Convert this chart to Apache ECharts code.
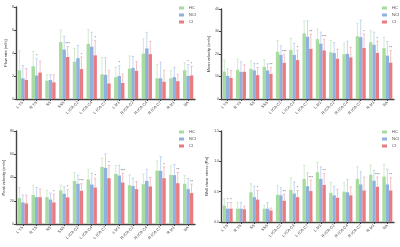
<!DOCTYPE html>
<html><head><meta charset="utf-8">
<script src="https://cdn.jsdelivr.net/npm/echarts@6/dist/echarts.min.js"></script>
<style>html,body{margin:0;padding:0;background:#fff}#c{width:400px;height:247px}</style>
</head><body><div id="c"></div>
<script>
var categories = ['L TS','R TS','SS','SSS','L ICA C2','L ICA C4','L ICA C7','L M1','R ICA C2','R ICA C4','R ICA C7','R M1','BA'];
var groups = ['HC','NCI','CI'];

// Panel 1: Flow rate
var flowHC  = [2.5,2.85,1.6,4.95,3.25,4.8,2.15,1.9,2.65,3.95,1.8,1.8,2.5];
var flowNCI = [1.8,2.05,1.65,4.3,3.55,4.55,2.1,2.0,2.7,4.4,1.8,1.9,2.0];
var flowCI  = [1.65,2.3,1.45,3.65,2.6,3.8,1.35,1.4,2.45,3.9,1.5,1.55,2.05];
var flowHCErr  = [4.2,4.15,2.1,6.0,4.4,6.05,3.6,2.75,3.75,5.25,3.0,2.45,3.15];
var flowNCIErr = [2.9,3.5,2.1,5.45,4.65,5.8,3.6,2.9,3.7,5.8,3.2,2.75,3.0];
var flowCIErr  = [2.65,3.3,2.1,4.55,3.65,5.1,2.5,2.15,3.25,5.0,2.5,2.15,2.85];
var flowNCISig = ['','*','','','','','','*','','','','','*'];
var flowCISig  = ['','','','***','*','*','','','','','','','*'];

// Panel 2: Mean velocity
var meanHC  = [12.2,13.0,13.4,14.3,21.0,21.8,29.2,26.6,20.8,19.9,27.9,25.2,22.6];
var meanNCI = [10.3,12.1,12.7,12.7,19.6,19.6,27.7,24.6,20.4,20.1,27.5,24.1,19.3];
var meanCI  = [9.4,12.1,10.6,11.1,16.1,17.3,22.3,21.6,17.9,18.5,22.7,20.5,16.2];
var meanHCErr  = [17.3,17.7,16.8,17.4,26.0,26.9,34.7,31.1,26.1,24.8,33.7,30.4,27.5];
var meanNCIErr = [13.4,16.5,15.8,15.6,23.6,24.8,34.7,29.7,25.1,25.7,35.1,29.7,25.5];
var meanCIErr  = [12.7,15.2,14.0,14.0,19.9,21.7,28.8,26.6,22.1,23.0,28.9,25.7,21.5];
var meanNCISig = ['','','','','','','','','','','','',''];
var meanCISig  = ['','','*','**','***','*','**','***','','','*','*','**'];

// Panel 3: Peak velocity
var peakHC  = [22.3,24.9,23.1,28.9,37.1,38.3,49.1,43.1,33.4,34.3,46.0,42.3,34.6];
var peakNCI = [18.6,23.1,21.1,26.0,34.6,34.0,48.3,41.7,32.6,37.1,45.7,42.0,30.0];
var peakCI  = [17.7,23.1,18.6,22.9,28.6,31.4,39.4,35.7,30.0,32.3,39.4,35.1,26.6];
var peakHCErr  = [31.4,33.4,28.9,33.4,44.3,47.1,56.6,50.3,42.3,43.1,54.3,50.0,41.7];
var peakNCIErr = [24.9,31.4,26.6,32.0,42.0,43.7,60.3,50.6,39.4,47.1,58.0,51.1,39.1];
var peakCIErr  = [24.9,30.0,25.7,29.4,34.6,39.4,50.3,43.7,36.6,40.0,49.1,44.3,34.3];
var peakNCISig = ['','','','','','','','','','','','',''];
var peakCISig  = ['','','*','*','***','*','*','***','','','*','**','**'];

// Panel 4: Wall shear stress
var wssHC  = [0.27,0.22,0.49,0.22,0.45,0.53,0.71,0.82,0.48,0.50,0.71,0.78,0.75];
var wssNCI = [0.22,0.22,0.41,0.22,0.44,0.47,0.59,0.71,0.44,0.49,0.62,0.68,0.62];
var wssCI  = [0.22,0.21,0.37,0.19,0.35,0.41,0.51,0.61,0.40,0.44,0.52,0.58,0.52];
var wssHCErr  = [0.38,0.32,0.63,0.28,0.60,0.73,0.93,0.98,0.65,0.65,0.91,0.94,0.95];
var wssNCIErr = [0.32,0.32,0.59,0.32,0.57,0.66,0.81,0.91,0.59,0.70,0.83,0.85,0.87];
var wssCIErr  = [0.32,0.26,0.52,0.23,0.46,0.52,0.69,0.80,0.54,0.58,0.74,0.74,0.73];
var wssNCISig = ['*','','','','','','','','','','','',''];
var wssCISig  = ['*','','*','','**','*','***','**','','','','***','**'];

var yNames = ['Flow rate (ml/s)','Mean velocity (cm/s)','Peak velocity (cm/s)','Wall shear stress (Pa)'];
var yMax = [8,40,80,1.5];
var yInterval = [2,10,20,0.5];

var barColors = ['#a8dba0','#8eb1de','#e97b82'];
var errColors = ['#c6e7c0','#b7cdec','#f1b1b6'];

var panels = [
  {vals:[flowHC,flowNCI,flowCI], errs:[flowHCErr,flowNCIErr,flowCIErr], sig:[[],flowNCISig,flowCISig]},
  {vals:[meanHC,meanNCI,meanCI], errs:[meanHCErr,meanNCIErr,meanCIErr], sig:[[],meanNCISig,meanCISig]},
  {vals:[peakHC,peakNCI,peakCI], errs:[peakHCErr,peakNCIErr,peakCIErr], sig:[[],peakNCISig,peakCISig]},
  {vals:[wssHC,wssNCI,wssCI], errs:[wssHCErr,wssNCIErr,wssCIErr], sig:[[],wssNCISig,wssCISig]}
];

var grids = [
  {left:16, right:205, top:7, bottom:148},
  {left:221, right:6, top:9, bottom:148},
  {left:16, right:205, top:131, bottom:23},
  {left:221, right:6, top:131, bottom:25}
];
var legendPos = [{left:179,top:6},{left:382,top:6},{left:179,top:130},{left:382,top:130}];

var BW = 0.25;
var xAxes = [], yAxes = [], series = [], legends = [];
grids.forEach(function(g,p){
  xAxes.push({type:'category', gridIndex:p, data:categories,
    axisLine:{lineStyle:{color:'#444',width:1.4}},
    axisTick:{show:true, alignWithLabel:true, length:2, lineStyle:{color:'#444'}},
    axisLabel:{rotate:45, fontSize:4, color:'#444', margin:3, interval:0, fontFamily:'Liberation Sans'}});
  yAxes.push({type:'value', gridIndex:p, min:0, max:yMax[p], interval:yInterval[p],
    name:yNames[p], nameLocation:'middle', nameRotate:90, nameGap:p===3?12:8,
    nameTextStyle:{fontSize:4, color:'#333', fontFamily:'Liberation Sans'},
    splitLine:{show:false},
    axisLine:{show:true, lineStyle:{color:'#444',width:1.4}},
    axisTick:{show:true, length:2, lineStyle:{color:'#444'}},
    axisLabel:{fontSize:3.5, color:'#444', margin:2, fontFamily:'Liberation Sans',
      formatter:function(v){return p===3? v.toFixed(1): v;}}});
  legends.push({left:legendPos[p].left, top:legendPos[p].top, orient:'vertical', itemWidth:5, itemHeight:3, itemGap:3,
    data:groups, textStyle:{fontSize:4, color:'#444', fontFamily:'Liberation Sans'}, icon:'rect', padding:0});
  var P = panels[p];
  for (var s=0;s<3;s++){
    series.push({type:'bar', name:groups[s], xAxisIndex:p, yAxisIndex:p, data:P.vals[s],
      barWidth:(BW*100)+'%', barGap:'0%', itemStyle:{color:barColors[s]}, z:3});
  }
  for (var s2=0;s2<3;s2++){
    (function(s, P){
      var d = categories.map(function(c,i){ return [i, P.errs[s][i], P.vals[s][i], P.sig[s][i]||'']; });
      series.push({type:'custom', name:groups[s], xAxisIndex:p, yAxisIndex:p, data:d, z:4, silent:true,
        renderItem:function(params, api){
          var i = api.value(0);
          var top = api.coord([i, api.value(1)]);
          var base = api.coord([i, api.value(2)]);
          var band = api.size([1,0])[0];
          var bw = band*BW;
          var x = top[0] + (s-1)*bw;
          var cap = bw*0.35;
          var children = [
            {type:'line', shape:{x1:x,y1:base[1],x2:x,y2:top[1]}, style:{stroke:errColors[s], lineWidth:0.8}},
            {type:'line', shape:{x1:x-cap,y1:top[1],x2:x+cap,y2:top[1]}, style:{stroke:errColors[s], lineWidth:0.8}}
          ];
          var sg = d[params.dataIndex][3];
          if (sg) children.push({type:'text', x:x, y:top[1]-0.5, style:{text:sg, fontSize:4, fill:'#555', align:'center', verticalAlign:'bottom', fontFamily:'Liberation Sans'}});
          return {type:'group', children:children};
        }});
    })(s2, P);
  }
});

var chart = echarts.init(document.getElementById('c'), null, {renderer:'canvas'});
chart.setOption({animation:false, backgroundColor:'#fff', grid:grids, xAxis:xAxes, yAxis:yAxes, legend:legends, series:series});
</script></body></html>
